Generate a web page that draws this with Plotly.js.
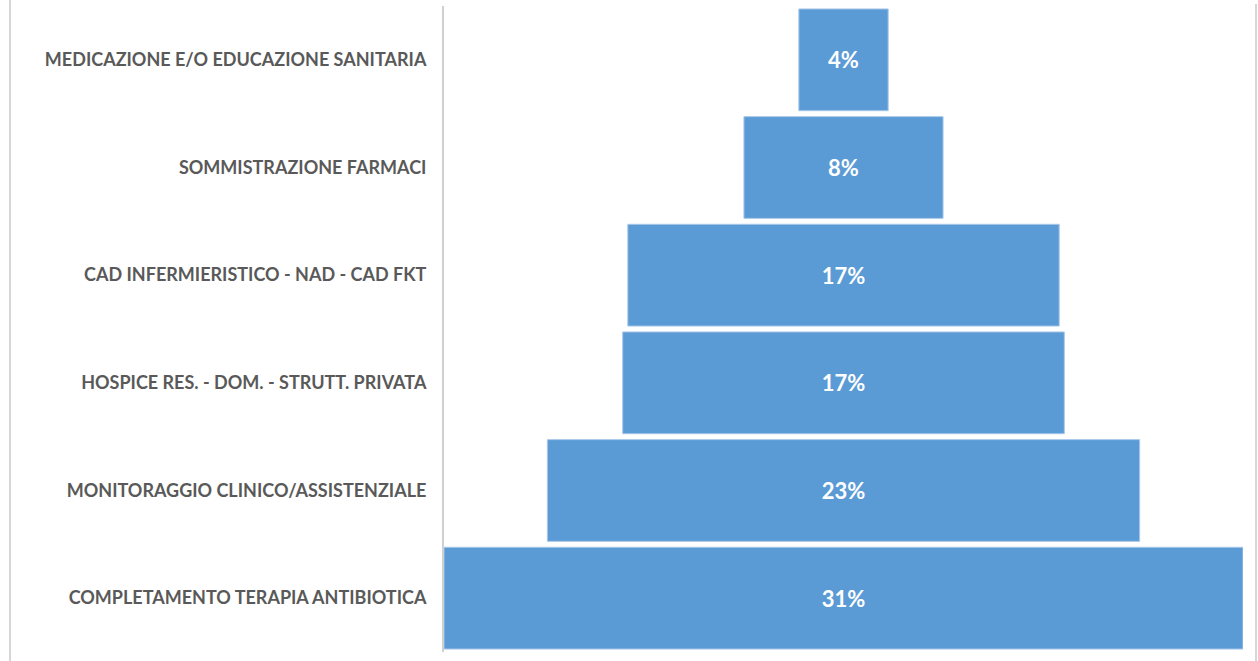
<!DOCTYPE html>
<html>
<head>
<meta charset="utf-8">
<script src="https://cdn.plot.ly/plotly-3.0.1.min.js"></script>
<style>
html,body{margin:0;padding:0;background:#fff;}
#wrap{position:relative;width:1258px;height:661px;overflow:hidden;}
#chart{position:absolute;left:0;top:0;width:1258px;height:661px;}
#lb{position:absolute;left:9px;top:0;width:2px;height:661px;background:#d6d6d6;}
#rb{position:absolute;left:1255px;top:4px;width:2px;height:657px;background:#d6d6d6;}
</style>
</head>
<body>
<div id="wrap"><div id="chart"></div><div id="lb"></div><div id="rb"></div></div>
<script>
const categories = [
  "MEDICAZIONE E/O EDUCAZIONE SANITARIA",
  "SOMMISTRAZIONE FARMACI",
  "CAD INFERMIERISTICO - NAD - CAD FKT",
  "HOSPICE RES. - DOM. - STRUTT. PRIVATA",
  "MONITORAGGIO CLINICO/ASSISTENZIALE",
  "COMPLETAMENTO TERAPIA ANTIBIOTICA"
];
const values = [3.5, 7.8, 16.9, 17.3, 23.2, 31.3];
const valueLabels = ["4%", "8%", "17%", "17%", "23%", "31%"];

const maxV = Math.max(...values);

Plotly.newPlot('chart', [{
  type: 'funnel',
  orientation: 'h',
  y: categories,
  x: values,
  text: valueLabels,
  textinfo: 'text',
  textposition: 'inside',
  insidetextanchor: 'middle',
  constraintext: 'none',
  insidetextfont: {family: 'Lato, "Open Sans", sans-serif', size: 22, color: '#ffffff', weight: 'bold'},
  marker: {color: '#5B9BD5', line: {color: '#a7c7ea', width: 1}},
  connector: {visible: false},
  hoverinfo: 'skip'
}], {
  width: 1258, height: 661,
  margin: {l: 444, r: 15, t: 6, b: 9, pad: 0},
  paper_bgcolor: '#ffffff',
  plot_bgcolor: '#ffffff',
  showlegend: false,
  funnelgap: 0.055,
  xaxis: {visible: false, range: [-maxV/2, maxV/2], fixedrange: true},
  yaxis: {
    showline: true, linecolor: '#d0d0d0', linewidth: 2,
    showgrid: false, zeroline: false, ticks: '',
    ticklabelstandoff: 12,
    tickfont: {family: 'Lato, "Open Sans", sans-serif', size: 18, color: '#595959', weight: 'bold'},
    fixedrange: true
  }
}, {displayModeBar: false, staticPlot: true});
</script>
</body>
</html>
